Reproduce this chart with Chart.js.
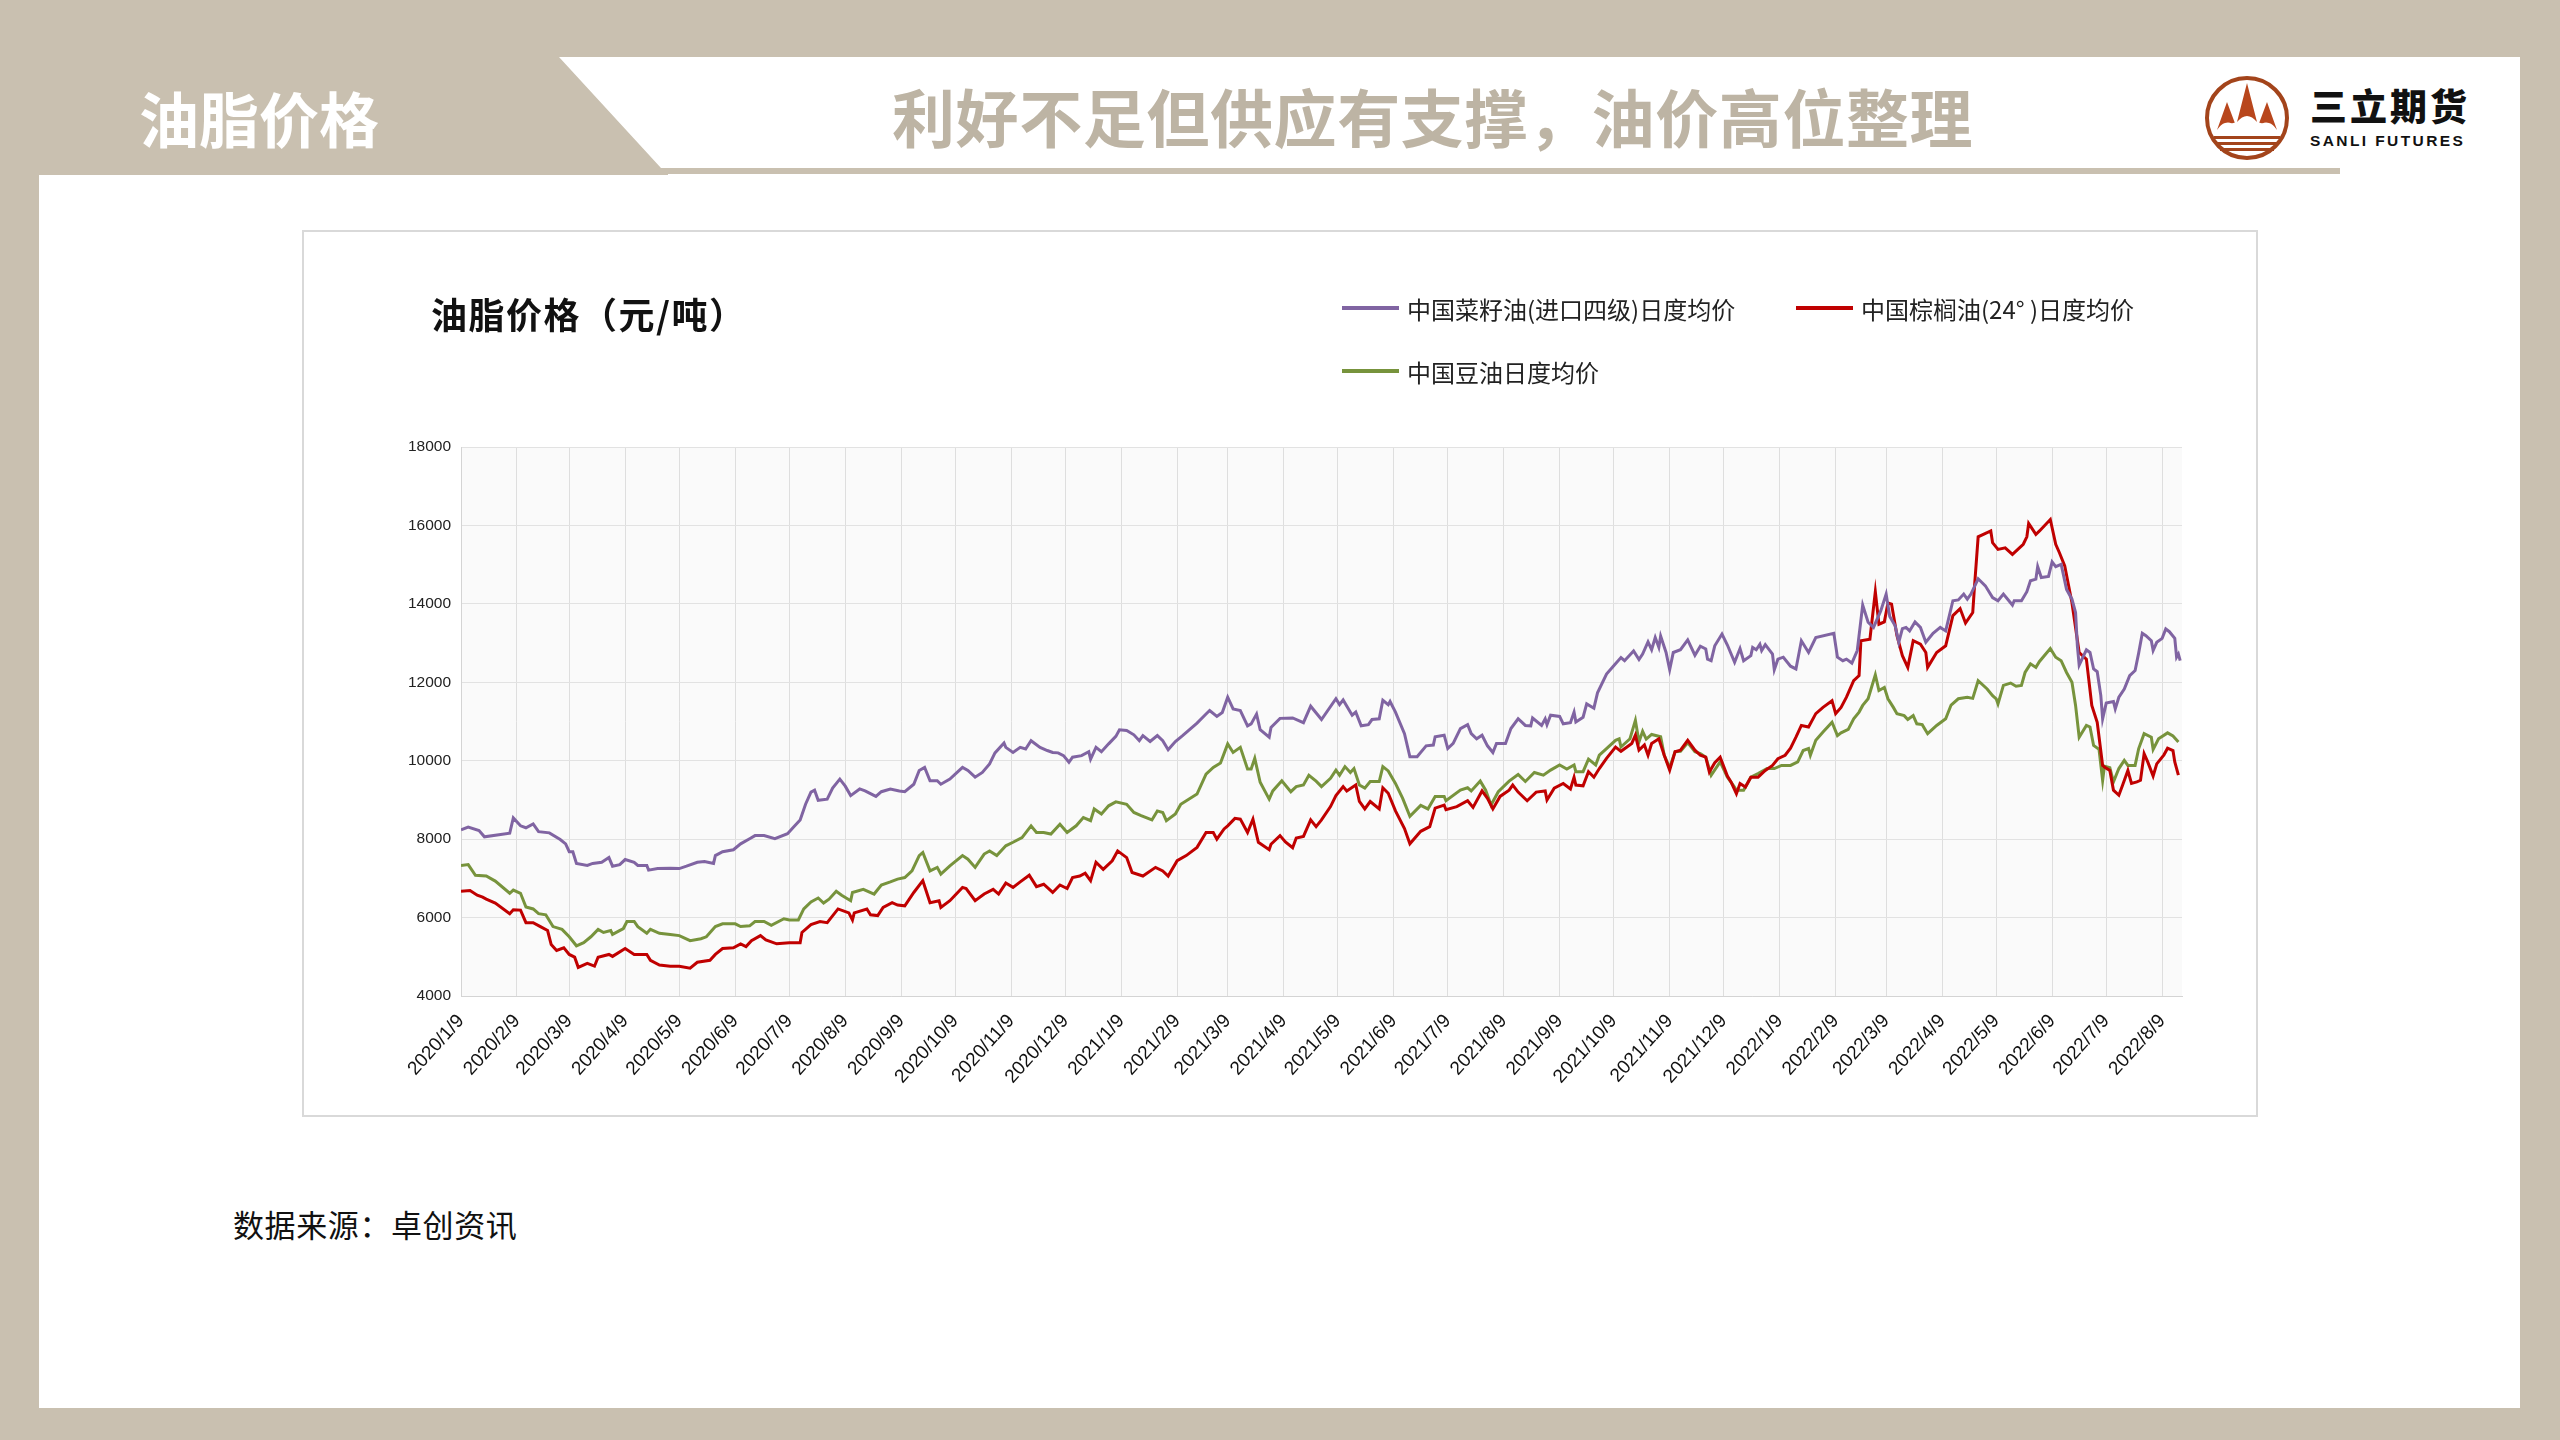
<!DOCTYPE html>
<html lang="zh-CN">
<head>
<meta charset="utf-8">
<title>油脂价格</title>
<script src="https://cdn.jsdelivr.net/npm/chart.js@4.4.1/dist/chart.umd.min.js"></script>
<style>
html, body { margin: 0; padding: 0; }
body {
    width: 2560px; height: 1440px; position: relative; overflow: hidden;
    background: #c9c0b0; font-family: "Noto Sans CJK SC", sans-serif;
}
.abs { position: absolute; }
#panel { left: 39px; top: 57px; width: 2481px; height: 1351px; background: #fff; }
#band { left: 0; top: 0; }
#section { left: 139px; top: 117px; transform: translateY(-50%); font-size: 60px; font-weight: 700; color: #fff; line-height: 1; }
#headline { left: 892px; top: 114px; transform: translateY(-50%); font-size: 63px; font-weight: 700; color: #bdb4a4; line-height: 1; white-space: nowrap; letter-spacing: 0.6px; }
#brand { left: 2310px; top: 105px; transform: translateY(-50%); font-size: 37px; font-weight: 900; color: #111; line-height: 1; letter-spacing: 3px; }
#brand-en { left: 2310px; top: 141px; transform: translateY(-50%); font-family: "Liberation Sans", Arial, sans-serif; font-size: 15.5px; font-weight: 700; color: #111; letter-spacing: 2.4px; line-height: 1; }
#box { left: 302px; top: 230px; width: 1956px; height: 887px; box-sizing: border-box; border: 2px solid #d9d9d9; }
#chart { left: 302px; top: 230px; }
#title { left: 431px; top: 313px; transform: translateY(-50%); font-size: 36px; font-weight: 700; color: #111; line-height: 1; letter-spacing: 1.5px; }
.legend-item { position: absolute; height: 30px; display: flex; align-items: center; font-size: 24px; color: #222; white-space: nowrap; }
.legend-item i { display: inline-block; width: 57px; height: 4px; margin-right: 8px; }
#source { left: 233px; top: 1223px; transform: translateY(-50%); font-size: 31px; color: #111; line-height: 1; letter-spacing: 0.6px; }
</style>
</head>
<body>
<div id="panel" class="abs"></div>
<svg id="band" class="abs" width="2560" height="200">
    <polygon points="39,57 559,57 661,168 2340,168 2340,174 668,174 668,175 39,175" fill="#c9c0b0"/>
</svg>
<div id="section" class="abs">油脂价格</div>
<div id="headline" class="abs">利好不足但供应有支撑，油价高位整理</div>

<svg class="abs" style="left:2200px;top:70px" width="96" height="96" viewBox="0 0 96 96">
    <circle cx="47" cy="48" r="40" fill="#fff" stroke="#a3441b" stroke-width="4"/>
    <path d="M47 13 L57 52 Q52 46 47 46 Q42 46 37 52 Z" fill="#b8461c"/>
    <path d="M27 32 L36 56 Q30 51 25 53 Q21 54 17 60 Z" fill="#b8461c"/>
    <path d="M67 32 L77 60 Q73 54 69 53 Q64 51 58 56 Z" fill="#b8461c"/>
    <path d="M16 62 Q30 50 47 52 Q64 50 78 62 Z" fill="#fff"/>
    <rect x="14" y="66" width="66" height="3" fill="#a3441b"/>
    <rect x="16" y="72" width="62" height="3" fill="#a3441b"/>
    <rect x="20" y="78" width="54" height="3" fill="#a3441b"/>
</svg>
<div id="brand" class="abs">三立期货</div>
<div id="brand-en" class="abs">SANLI FUTURES</div>

<div id="box" class="abs"></div>
<canvas id="chart" class="abs" width="1956" height="887"></canvas>
<div id="title" class="abs">油脂价格（元/吨）</div>
<div id="legend"></div>
<div id="source" class="abs">数据来源：卓创资讯</div>

<script>
const tickLabels = [
    '2020/1/9', '2020/2/9', '2020/3/9', '2020/4/9', '2020/5/9', '2020/6/9', '2020/7/9', '2020/8/9',
    '2020/9/9', '2020/10/9', '2020/11/9', '2020/12/9', '2021/1/9', '2021/2/9', '2021/3/9', '2021/4/9',
    '2021/5/9', '2021/6/9', '2021/7/9', '2021/8/9', '2021/9/9', '2021/10/9', '2021/11/9', '2021/12/9',
    '2022/1/9', '2022/2/9', '2022/3/9', '2022/4/9', '2022/5/9', '2022/6/9', '2022/7/9', '2022/8/9'
];
const seriesNames = ['中国菜籽油(进口四级)日度均价', '中国棕榈油(24° )日度均价', '中国豆油日度均价'];
const seriesColors = ['#8064a2', '#c00000', '#77933c'];
const yMin = 4000, yMax = 18000, yStep = 2000;
const lastDay = 954; // 2022/8/19, right edge of the axis

// days after 2020/1/9, and yuan per tonne
const rapeDay = [
    0, 4, 10, 13, 27, 29, 33, 36, 40, 43, 49, 55, 58, 60, 62, 64, 70, 73, 78, 82, 84, 88, 91, 96, 98,
    103, 104, 109, 116, 121, 125, 131, 135, 140, 141, 145, 151, 155, 160, 163, 168, 174, 181, 184, 188,
    191, 194, 196, 198, 203, 206, 210, 213, 216, 221, 224, 230, 233, 238, 243, 246, 251, 254, 257, 260,
    264, 266, 271, 278, 281, 285, 289, 293, 296, 301, 302, 306, 310, 313, 316, 321, 325, 328, 331, 334,
    337, 339, 344, 348, 349, 352, 355, 359, 363, 365, 369, 373, 376, 378, 382, 386, 389, 392, 396, 400,
    408, 413, 415, 419, 422, 425, 428, 432, 436, 438, 441, 443, 448, 449, 454, 461, 467, 471, 477, 485,
    487, 489, 494, 496, 499, 503, 505, 509, 511, 514, 515, 518, 523, 526, 530, 535, 539, 540, 545, 547,
    550, 554, 558, 560, 563, 566, 569, 572, 574, 579, 582, 586, 590, 593, 594, 599, 601, 602, 604, 609,
    611, 615, 617, 618, 622, 624, 628, 630, 635, 639, 643, 645, 650, 653, 655, 658, 660, 662, 664, 665,
    668, 670, 672, 676, 680, 684, 687, 690, 691, 693, 695, 699, 702, 706, 709, 711, 715, 716, 718, 720,
    721, 723, 727, 728, 730, 733, 737, 740, 743, 747, 751, 761, 763, 766, 768, 771, 774, 777, 780, 783,
    787, 790, 792, 795, 797, 799, 801, 803, 806, 809, 812, 816, 820, 823, 827, 830, 833, 835, 837, 841,
    845, 849, 852, 855, 860, 861, 865, 868, 870, 873, 874, 876, 880, 882, 884, 887, 890, 893, 895, 896,
    897, 901, 903, 905, 907, 909, 910, 912, 916, 917, 919, 922, 925, 928, 930, 932, 934, 937, 938, 940,
    943, 945, 947, 950, 951, 952, 953
];
const rapeVal = [
    8240, 8310, 8220, 8060, 8150, 8540, 8340, 8290, 8390, 8190, 8160, 7990, 7880, 7680, 7680, 7380, 7330, 7380, 7410, 7530, 7310, 7350, 7480, 7410, 7330,
    7330, 7210, 7250, 7260, 7250, 7310, 7410, 7430, 7380, 7580, 7680, 7730, 7880, 8010, 8090, 8090, 8010, 8140, 8290, 8490,
    8890, 9200, 9250, 8990, 9020, 9300, 9530, 9350, 9110, 9280, 9230, 9090, 9210, 9280, 9230, 9210, 9400, 9750, 9830, 9490,
    9490, 9400, 9530, 9830, 9750, 9580, 9700, 9920, 10200, 10450, 10340, 10210, 10340, 10300, 10510, 10340, 10260, 10210, 10200, 10130,
    9960, 10090, 10130, 10230, 10040, 10340, 10230, 10430, 10620, 10790, 10770, 10660, 10510, 10640, 10490, 10640, 10510, 10280, 10490, 10640,
    10960, 11190, 11280, 11130, 11230, 11620, 11320, 11280, 10890, 10940, 11190, 10790, 10600, 10850, 11080, 11090, 10970, 11390, 11050, 11580,
    11430, 11550, 11160, 11240, 10890, 10920, 11050, 11070, 11540, 11430, 11510, 11240, 10690, 10100, 10100, 10380, 10400, 10610, 10650, 10310,
    10440, 10820, 10920, 10690, 10560, 10650, 10380, 10210, 10440, 10440, 10820, 11070, 10900, 10890, 11090, 10900, 11070, 10920, 11160, 11130,
    10940, 10970, 11240, 10990, 11110, 11450, 11340, 11730, 12210, 12420, 12630, 12550, 12800, 12580, 12720, 13030, 12830, 13140, 12890, 13180,
    12760, 12320, 12760, 12830, 13080, 12690, 12920, 12850, 12590, 12550, 12930, 13230, 12950, 12510, 12860, 12550, 12680, 12890, 12830, 12970,
    12810, 12960, 12720, 12320, 12590, 12640, 12410, 12340, 13060, 12760, 13140, 13250, 12640, 12550, 12590, 12490, 12810, 13970, 13530, 13400,
    13820, 14250, 13680, 13440, 13020, 13370, 13400, 13310, 13540, 13400, 13020, 13250, 13400, 13310, 14080, 14100, 14250, 14120, 14250, 14640,
    14460, 14160, 14080, 14250, 13970, 14080, 14080, 14310, 14590, 14630, 14950, 14670, 14700, 15070, 14950, 15010, 14370, 14120, 13780, 12930,
    12440, 12830, 12760, 12340, 12270, 11660, 11070, 11470, 11510, 11320, 11620, 11830, 12170, 12300, 12750, 13250, 13190, 13060, 12810, 13020,
    13120, 13360, 13290, 13120, 12640, 12720, 12550
];

const palmDay = [
    0, 5, 9, 12, 14, 19, 27, 29, 33, 36, 40, 44, 48, 50, 53, 57, 60, 63, 65, 70, 74, 76, 82, 84, 91,
    96, 103, 105, 110, 116, 121, 127, 131, 138, 141, 145, 151, 155, 158, 161, 166, 169, 175, 182, 188,
    189, 194, 199, 203, 209, 215, 217, 218, 225, 227, 231, 234, 239, 242, 246, 251, 256, 260, 265, 266,
    271, 278, 280, 285, 290, 295, 298, 302, 306, 310, 315, 319, 323, 328, 332, 336, 339, 343, 346, 349,
    352, 356, 361, 364, 369, 372, 378, 385, 389, 392, 397, 402, 408, 413, 417, 419, 423, 425, 429, 432,
    436, 439, 442, 448, 449, 454, 457, 461, 463, 467, 471, 474, 477, 482, 485, 489, 491, 496, 498, 501,
    504, 509, 511, 514, 518, 523, 526, 532, 537, 540, 545, 546, 552, 558, 561, 566, 569, 572, 576, 581,
    583, 586, 591, 596, 601, 602, 606, 611, 615, 617, 618, 622, 625, 628, 631, 635, 640, 643, 649, 651,
    653, 656, 658, 660, 664, 667, 670, 673, 676, 680, 684, 687, 690, 692, 695, 698, 702, 704, 707, 709,
    712, 715, 719, 723, 727, 730, 734, 737, 740, 743, 747, 751, 755, 760, 762, 765, 768, 772, 775, 776,
    781, 784, 786, 789, 791, 793, 796, 799, 802, 805, 809, 812, 813, 818, 823, 827, 831, 834, 838, 839,
    841, 848, 849, 852, 856, 860, 863, 866, 868, 869, 873, 875, 881, 884, 886, 889, 893, 897, 901, 904,
    907, 910, 911, 914, 916, 919, 921, 924, 926, 929, 931, 933, 935, 938, 940, 944, 946, 949, 950, 952
];
const palmVal = [
    6670, 6690, 6570, 6520, 6470, 6370, 6100, 6200, 6190, 5870, 5870, 5770, 5670, 5310, 5160, 5230, 5060, 4990, 4730, 4830, 4760, 4990, 5060, 5010, 5210,
    5060, 5060, 4910, 4790, 4760, 4760, 4710, 4860, 4910, 5060, 5210, 5230, 5330, 5260, 5410, 5540, 5430, 5330, 5360, 5360,
    5620, 5820, 5900, 5870, 6220, 6120, 5940, 6120, 6220, 6070, 6050, 6260, 6380, 6320, 6300, 6640, 6940, 6380, 6430, 6260,
    6430, 6770, 6740, 6430, 6600, 6720, 6600, 6880, 6770, 6910, 7080, 6790, 6850, 6640, 6830, 6740, 7020, 7060, 7130, 6940,
    7410, 7230, 7450, 7700, 7530, 7150, 7060, 7280, 7190, 7060, 7450, 7580, 7790, 8170, 8170, 8000, 8260, 8340, 8530, 8510,
    8170, 8510, 7920, 7730, 7870, 8090, 7930, 7780, 8030, 8070, 8490, 8320, 8490, 8830, 9110, 9340, 9230, 9380, 8960, 8770,
    8960, 8770, 9310, 9170, 8720, 8270, 7880, 8200, 8320, 8790, 8870, 8750, 8830, 8980, 8810, 9230, 9040, 8770, 9090, 9250,
    9380, 9200, 8980, 9200, 9230, 9000, 9300, 9420, 9280, 9580, 9380, 9360, 9720, 9580, 9800, 10060, 10350, 10240, 10440, 10650,
    10270, 10400, 10140, 10440, 10560, 10140, 9760, 10230, 10270, 10520, 10270, 10140, 10090, 9710, 9950, 10090, 9610, 9460, 9160, 9420,
    9330, 9580, 9580, 9750, 9880, 10050, 10140, 10320, 10600, 10900, 10860, 11200, 11360, 11530, 11200, 11360, 11620, 12040, 12170, 13060,
    13100, 14310, 13480, 13540, 14020, 13990, 13190, 12680, 12380, 13060, 12970, 12760, 12380, 12760, 12930, 13700, 13880, 13510, 13780, 14460,
    15710, 15860, 15560, 15390, 15430, 15260, 15390, 15520, 15710, 16050, 15770, 15860, 16150, 15520, 15310, 14970, 14030, 12760, 12590, 11410,
    10980, 9880, 9840, 9750, 9250, 9120, 9370, 9750, 9420, 9460, 9500, 10180, 9970, 9610, 9920, 10150, 10320, 10260, 9970, 9630
];

const soyDay = [
    0, 4, 8, 14, 19, 27, 29, 33, 36, 40, 43, 47, 51, 56, 60, 64, 68, 72, 76, 79, 83, 84, 90, 92, 96,
    98, 103, 105, 110, 116, 121, 127, 133, 136, 141, 145, 152, 155, 160, 163, 168, 172, 179, 182, 187,
    190, 194, 198, 201, 204, 208, 211, 216, 217, 223, 229, 233, 238, 242, 246, 250, 254, 256, 260, 264,
    266, 271, 278, 281, 285, 290, 293, 297, 302, 306, 311, 316, 319, 323, 327, 332, 336, 341, 345, 349,
    351, 355, 359, 363, 369, 373, 377, 383, 386, 389, 391, 396, 399, 408, 413, 417, 421, 425, 428, 432,
    436, 438, 440, 443, 448, 450, 455, 460, 463, 467, 470, 474, 477, 482, 485, 487, 490, 493, 495, 498,
    501, 504, 509, 511, 514, 518, 522, 526, 532, 536, 540, 545, 546, 554, 558, 560, 565, 568, 571, 575,
    581, 586, 590, 595, 600, 604, 609, 613, 617, 618, 622, 625, 629, 631, 635, 640, 642, 643, 648, 651,
    653, 655, 657, 660, 665, 667, 670, 673, 676, 680, 684, 687, 690, 693, 698, 702, 705, 707, 711, 715,
    719, 724, 728, 732, 737, 741, 744, 747, 748, 751, 755, 760, 763, 765, 769, 772, 775, 777, 780, 784,
    786, 789, 791, 794, 796, 800, 802, 805, 807, 810, 813, 818, 823, 826, 830, 835, 838, 841, 846, 849,
    851, 852, 855, 859, 862, 865, 867, 870, 873, 875, 881, 884, 887, 890, 893, 895, 897, 901, 903, 905,
    908, 910, 911, 914, 916, 919, 922, 924, 928, 930, 933, 937, 938, 941, 946, 949, 952
];
const soyVal = [
    7330, 7350, 7080, 7060, 6930, 6620, 6700, 6620, 6270, 6220, 6100, 6070, 5770, 5700, 5510, 5280, 5360, 5510, 5700, 5620, 5670, 5570, 5720, 5900, 5900,
    5770, 5600, 5700, 5600, 5570, 5540, 5410, 5460, 5510, 5770, 5840, 5840, 5770, 5790, 5900, 5900, 5800, 5970, 5940, 5940,
    6220, 6400, 6500, 6370, 6470, 6670, 6570, 6430, 6640, 6720, 6600, 6830, 6910, 6980, 7020, 7190, 7580, 7660, 7190, 7280,
    7110, 7320, 7580, 7490, 7280, 7620, 7700, 7580, 7830, 7920, 8040, 8340, 8170, 8170, 8130, 8380, 8170, 8340, 8550, 8470,
    8770, 8640, 8850, 8950, 8890, 8680, 8600, 8490, 8720, 8680, 8470, 8640, 8890, 9150, 9660, 9830, 9940, 10430, 10210, 10340,
    9790, 9790, 10060, 9450, 9020, 9230, 9490, 9210, 9340, 9380, 9630, 9480, 9340, 9550, 9760, 9630, 9850, 9700, 9800, 9380,
    9300, 9470, 9470, 9850, 9740, 9420, 9040, 8580, 8860, 8770, 9090, 9090, 8980, 9250, 9310, 9230, 9480, 9250, 8870, 9210,
    9480, 9650, 9470, 9700, 9630, 9760, 9890, 9790, 9890, 9720, 9720, 10040, 9890, 10140, 10310, 10520, 10560, 10350, 10560, 11030,
    10480, 10750, 10550, 10670, 10610, 10140, 9820, 10230, 10240, 10460, 10230, 10180, 10090, 9630, 9970, 9580, 9390, 9250, 9250, 9580,
    9670, 9800, 9800, 9880, 9880, 9970, 10260, 10310, 10140, 10520, 10730, 10980, 10640, 10710, 10800, 11070, 11240, 11410, 11580, 12190,
    11790, 11870, 11580, 11360, 11200, 11150, 11050, 11150, 10940, 10920, 10690, 10900, 11070, 11420, 11580, 11620, 11590, 12040, 11830, 11660,
    11580, 11450, 11920, 11980, 11900, 11920, 12250, 12470, 12380, 12530, 12860, 12640, 12550, 12250, 12000, 11410, 10600, 10900, 10860, 10390,
    10290, 9500, 9860, 9820, 9460, 9800, 10010, 9880, 9880, 10310, 10690, 10600, 10290, 10560, 10710, 10630, 10480
];

const DAY_MS = 86400000;
const START = Date.UTC(2020, 0, 9);
const toDay = (label) => {
    const [y, m, d] = label.split('/').map(Number);
    return Math.round((Date.UTC(y, m - 1, d) - START) / DAY_MS);
};
const tickDays = tickLabels.map(toDay);

const toPoints = (days, vals) => days.map((d, i) => ({ x: d, y: vals[i] }));

const plotBackground = {
    id: 'plotBackground',
    beforeDraw(chart) {
        const { ctx, chartArea: a } = chart;
        ctx.save();
        ctx.fillStyle = '#fafafa';
        ctx.fillRect(a.left, a.top, a.right - a.left, a.bottom - a.top);
        ctx.restore();
    }
};

const makeSet = (i, days, vals) => ({
    label: seriesNames[i],
    data: toPoints(days, vals),
    borderColor: seriesColors[i],
    borderWidth: 3,
    pointRadius: 0,
    fill: false,
    tension: 0,
});

new Chart(document.getElementById('chart'), {
    type: 'line',
    data: {
        datasets: [
            makeSet(0, rapeDay, rapeVal),
            makeSet(1, palmDay, palmVal),
            makeSet(2, soyDay, soyVal),
        ],
    },
    options: {
        responsive: false,
        maintainAspectRatio: false,
        animation: false,
        devicePixelRatio: 1,
        layout: { padding: { left: 0, top: 217, right: 76, bottom: 0 } },
        plugins: { legend: { display: false }, tooltip: { enabled: false }, title: { display: false } },
        scales: {
            x: {
                type: 'linear',
                min: 0,
                max: lastDay,
                afterBuildTicks: (scale) => { scale.ticks = tickDays.map(v => ({ value: v })); },
                afterFit: (scale) => { scale.height = 121; },
                grid: { color: '#dedede', lineWidth: 1, drawTicks: false },
                border: { color: '#d4d4d4', width: 1 },
                ticks: {
                    autoSkip: false,
                    minRotation: 48,
                    maxRotation: 48,
                    padding: 14,
                    color: '#111',
                    font: { family: '"Liberation Sans", Arial, sans-serif', size: 19 },
                    callback: (v, i) => tickLabels[i],
                },
            },
            y: {
                min: yMin,
                max: yMax,
                afterFit: (scale) => { scale.width = 159; },
                grid: { color: '#e2e2e2', lineWidth: 1, drawTicks: false },
                border: { color: '#d4d4d4', width: 1 },
                ticks: {
                    stepSize: yStep,
                    padding: 10,
                    color: '#222',
                    font: { family: '"Liberation Sans", Arial, sans-serif', size: 15.5 },
                    callback: (v) => String(v),
                },
            },
        },
    },
    plugins: [plotBackground],
});

// legend, laid out like the original: two items on the first row, one below
const legendSpots = [[1342, 293], [1796, 293], [1342, 356]];
const legend = document.getElementById('legend');
seriesNames.forEach((name, i) => {
    const item = document.createElement('div');
    item.className = 'legend-item';
    item.style.left = legendSpots[i][0] + 'px';
    item.style.top = legendSpots[i][1] + 'px';
    const swatch = document.createElement('i');
    swatch.style.background = seriesColors[i];
    item.append(swatch, name);
    legend.appendChild(item);
});
</script>
</body>
</html>
